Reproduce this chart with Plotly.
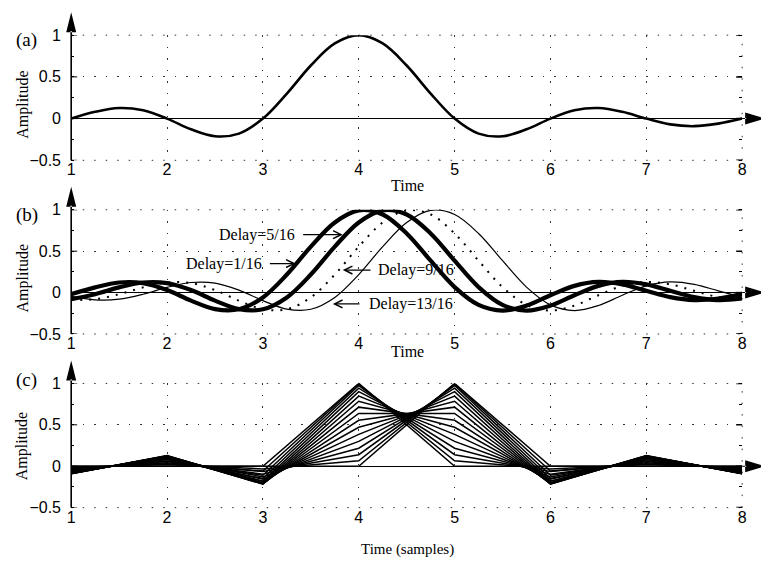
import plotly.graph_objects as go

# ---------------- data ----------------
t_fine = [1.0, 1.25, 1.5, 1.75, 2.0, 2.25, 2.5, 2.75, 3.0, 3.25, 3.5, 3.75, 4.0, 4.25,
          4.5, 4.75, 5.0, 5.25, 5.5, 5.75, 6.0, 6.25, 6.5, 6.75, 7.0, 7.25, 7.5, 7.75, 8.0]
t_samples = [1, 2, 3, 4, 5, 6, 7, 8]
x_ticks = [1, 2, 3, 4, 5, 6, 7, 8]
y_ticks = [-0.5, 0, 0.5, 1]
y_ticktext = ["\u22120.5", "0", "0.5", "1"]

# (a) undelayed interpolation kernel
amp_a = [0.0, 0.0818, 0.1273, 0.1000, 0.0, -0.1286, -0.2122, -0.1801, 0.0, 0.3001,
         0.6366, 0.9003, 1.0, 0.9003, 0.6366, 0.3001, 0.0, -0.1801, -0.2122, -0.1286,
         0.0, 0.1000, 0.1273, 0.0818, 0.0, -0.0693, -0.0909, -0.0600, 0.0]

# (b) delayed kernels
amp_d1 = [-0.0203, 0.0629, 0.1218, 0.1145, 0.0301, -0.0976, -0.1998, -0.2017, -0.0584,
          0.2177, 0.5550, 0.8470, 0.9936, 0.9432, 0.7136, 0.3850, 0.0662, -0.1489,
          -0.2172, -0.1568, -0.0321, 0.0808, 0.1281, 0.0985, 0.0211, -0.0555, -0.0908,
          -0.0718, -0.0158]
amp_d5 = [-0.0799, -0.0203, 0.0629, 0.1218, 0.1145, 0.0301, -0.0976, -0.1998, -0.2017,
          -0.0584, 0.2177, 0.5550, 0.8470, 0.9936, 0.9432, 0.7136, 0.3850, 0.0662,
          -0.1489, -0.2172, -0.1568, -0.0321, 0.0808, 0.1281, 0.0985, 0.0211, -0.0555,
          -0.0908, -0.0718]
amp_d9 = [-0.0876, -0.0799, -0.0203, 0.0629, 0.1218, 0.1145, 0.0301, -0.0976, -0.1998,
          -0.2017, -0.0584, 0.2177, 0.5550, 0.8470, 0.9936, 0.9432, 0.7136, 0.3850,
          0.0662, -0.1489, -0.2172, -0.1568, -0.0321, 0.0808, 0.1281, 0.0985, 0.0211,
          -0.0555, -0.0908]
amp_d13 = [-0.0464, -0.0876, -0.0799, -0.0203, 0.0629, 0.1218, 0.1145, 0.0301, -0.0976,
           -0.1998, -0.2017, -0.0584, 0.2177, 0.5550, 0.8470, 0.9936, 0.9432, 0.7136,
           0.3850, 0.0662, -0.1489, -0.2172, -0.1568, -0.0321, 0.0808, 0.1281, 0.0985,
           0.0211, -0.0555]
delay_labels = ["Delay=1/16", "Delay=5/16", "Delay=9/16", "Delay=13/16"]

# (c) sampled kernels, delays 0/16 ... 16/16
c00 = [0.0, 0.0, 0.0, 1.0, 0.0, 0.0, 0.0, 0.0]
c01 = [-0.0203, 0.0301, -0.0584, 0.9936, 0.0662, -0.0321, 0.0211, -0.0158]
c02 = [-0.0390, 0.0573, -0.1083, 0.9745, 0.1392, -0.0650, 0.0424, -0.0314]
c03 = [-0.0555, 0.0808, -0.1489, 0.9432, 0.2177, -0.0976, 0.0629, -0.0464]
c04 = [-0.0693, 0.1000, -0.1801, 0.9003, 0.3001, -0.1286, 0.0818, -0.0600]
c05 = [-0.0799, 0.1145, -0.2017, 0.8470, 0.3850, -0.1568, 0.0985, -0.0718]
c06 = [-0.0871, 0.1238, -0.2139, 0.7842, 0.4705, -0.1810, 0.1120, -0.0811]
c07 = [-0.0908, 0.1281, -0.2172, 0.7136, 0.5550, -0.1998, 0.1218, -0.0876]
c08 = [-0.0909, 0.1273, -0.2122, 0.6366, 0.6366, -0.2122, 0.1273, -0.0909]
c09 = [-0.0876, 0.1218, -0.1998, 0.5550, 0.7136, -0.2172, 0.1281, -0.0908]
c10 = [-0.0811, 0.1120, -0.1810, 0.4705, 0.7842, -0.2139, 0.1238, -0.0871]
c11 = [-0.0718, 0.0985, -0.1568, 0.3850, 0.8470, -0.2017, 0.1145, -0.0799]
c12 = [-0.0600, 0.0818, -0.1286, 0.3001, 0.9003, -0.1801, 0.1000, -0.0693]
c13 = [-0.0464, 0.0629, -0.0976, 0.2177, 0.9432, -0.1489, 0.0808, -0.0555]
c14 = [-0.0314, 0.0424, -0.0650, 0.1392, 0.9745, -0.1083, 0.0573, -0.0390]
c15 = [-0.0158, 0.0211, -0.0321, 0.0662, 0.9936, -0.0584, 0.0301, -0.0203]
c16 = [0.0, 0.0, 0.0, 0.0, 1.0, 0.0, 0.0, 0.0]
sampled = [c00, c01, c02, c03, c04, c05, c06, c07, c08, c09, c10, c11, c12, c13, c14, c15, c16]

# ---------------- figure ----------------
W, H = 761, 569
fig = go.Figure()

fig.add_trace(go.Scatter(x=t_fine, y=amp_a, mode="lines", xaxis="x", yaxis="y",
                         line=dict(color="black", width=2.6, shape="spline")))

fig.add_trace(go.Scatter(x=t_fine, y=amp_d13, mode="lines", xaxis="x2", yaxis="y2",
                         line=dict(color="black", width=1.2, shape="spline")))
fig.add_trace(go.Scatter(x=t_fine, y=amp_d9, mode="lines", xaxis="x2", yaxis="y2",
                         line=dict(color="black", width=2, shape="spline", dash="2px,7px")))
fig.add_trace(go.Scatter(x=t_fine, y=amp_d5, mode="lines", xaxis="x2", yaxis="y2",
                         line=dict(color="black", width=4.2, shape="spline")))
fig.add_trace(go.Scatter(x=t_fine, y=amp_d1, mode="lines", xaxis="x2", yaxis="y2",
                         line=dict(color="black", width=4.2, shape="spline")))

for vals in sampled:
    fig.add_trace(go.Scatter(x=t_samples, y=vals, mode="lines", xaxis="x3", yaxis="y3",
                             line=dict(color="black", width=1.5)))

XL, XR = 68 / W, 747 / W
xdom = [XL, XR]
ydoms = [[1 - 157 / H, 1 - 28 / H], [1 - 336 / H, 1 - 208 / H], [1 - 515 / H, 1 - 387 / H]]

tickfont = dict(family="Liberation Sans, Arial, sans-serif", size=16, color="black")
GRIDDASH = "1.5px,10px"
GRIDCOLOR = "#333"
grid = dict(showgrid=True, gridcolor=GRIDCOLOR, gridwidth=1, griddash=GRIDDASH)

layout = dict(width=W, height=H, margin=dict(l=0, r=0, t=0, b=0),
              paper_bgcolor="white", plot_bgcolor="white", showlegend=False,
              hovermode=False)
for i in range(3):
    sx = "" if i == 0 else str(i + 1)
    layout["xaxis" + sx] = dict(domain=xdom, range=[1, 8], anchor="y" + sx,
                                tickvals=x_ticks, ticks="", showline=False, zeroline=False,
                                tickfont=tickfont, ticklabelstandoff=-2, fixedrange=True, **grid)
    # major ticks are "outside" but invisible (they only set the label gap);
    # the visible inside major ticks are drawn below as shapes
    layout["yaxis" + sx] = dict(domain=ydoms[i], range=[-0.5, 1], anchor="x" + sx,
                                tickvals=y_ticks, ticktext=y_ticktext, ticks="outside",
                                ticklen=6, tickwidth=1, tickcolor="rgba(0,0,0,0)",
                                mirror="ticks",
                                showline=False, zeroline=True, zerolinecolor="black",
                                zerolinewidth=1, tickfont=tickfont,
                                minor=dict(dtick=0.25, tick0=0, ticks="inside", ticklen=3,
                                           tickcolor="black", showgrid=False),
                                fixedrange=True, **grid)
fig.update_layout(**layout)

serif = "Liberation Serif, Times New Roman, serif"
shapes = []
annotations = []
panel_letters = ["(a)", "(b)", "(c)"]
letter_y = [33, 213, 383]
ylabel_y = [100, 279, 452]
xlabel_y = [183, 354, 558]
xlabel_txt = ["Time", "Time", "Time (samples)"]
xlabel_size = [16, 16, 15]
for i in range(3):
    sx = "" if i == 0 else str(i + 1)
    yb, yt = ydoms[i]
    yz = yb + (yt - yb) / 3.0
    # boundary dotted grid lines (top, bottom, right)
    for (x0, y0, x1, y1) in [(XL, yt, XR, yt), (XL, yb, XR, yb), (XR, yb, XR, yt)]:
        shapes.append(dict(type="line", xref="paper", yref="paper", x0=x0, y0=y0, x1=x1, y1=y1,
                           line=dict(color=GRIDCOLOR, width=1, dash=GRIDDASH), layer="below"))
    # inside major ticks, left and mirrored right
    for v in y_ticks:
        shapes.append(dict(type="line", xref="paper", yref="y" + sx, xsizemode="pixel",
                           xanchor=XL, x0=0, x1=6, y0=v, y1=v,
                           line=dict(color="black", width=1), layer="above"))
        shapes.append(dict(type="line", xref="paper", yref="y" + sx, xsizemode="pixel",
                           xanchor=XR, x0=-6, x1=0, y0=v, y1=v,
                           line=dict(color="black", width=1.5), layer="above"))
    # y-axis line
    shapes.append(dict(type="line", xref="paper", yref="paper", x0=XL, x1=XL, y0=yb, y1=yt,
                       line=dict(color="black", width=1.6), layer="above"))
    # y-axis arrow head
    shapes.append(dict(type="path", xref="paper", yref="paper", xsizemode="pixel",
                       ysizemode="pixel", xanchor=XL, yanchor=yt,
                       path="M-0.8,0 L0.8,0 L0.8,4 L-0.8,4 Z M-5,3 L5,3 L0,23 Z",
                       fillcolor="black", line=dict(width=0), layer="above"))
    # x-axis arrow head on the zero line
    shapes.append(dict(type="path", xref="paper", yref="paper", xsizemode="pixel",
                       ysizemode="pixel", xanchor=XR, yanchor=yz,
                       path="M0,-0.5 L4,-0.5 L4,0.5 L0,0.5 Z M3,-6 L3,6 L23,0 Z",
                       fillcolor="black", line=dict(width=0), layer="above"))
    annotations.append(dict(text=panel_letters[i], xref="paper", yref="paper",
                            x=23 / W, y=1 - letter_y[i] / H, showarrow=False,
                            xanchor="center", yanchor="middle",
                            font=dict(family=serif, size=19, color="black")))
    annotations.append(dict(text="Amplitude", xref="paper", yref="paper", textangle=-90,
                            x=19 / W, y=1 - ylabel_y[i] / H, showarrow=False,
                            xanchor="center", yanchor="middle",
                            font=dict(family=serif, size=16, color="black")))
    annotations.append(dict(text=xlabel_txt[i], xref="paper", yref="paper",
                            x=408 / W, y=1 - xlabel_y[i] / H, showarrow=False,
                            xanchor="center", yanchor="middle",
                            font=dict(family=serif, size=xlabel_size[i], color="black")))

# delay annotations in (b): (text anchor x, y, side, arrow tail x, arrow tip x)
delay_pos = [
    (3.008, 0.35, "right", 3.057, 3.342),
    (3.353, 0.70, "right", 3.404, 3.833),
    (4.177, 0.272, "left", 4.139, 3.833),
    (4.088, -0.137, "left", 4.023, 3.73),
]
for lab, (tx, ty, side, tail, tip) in zip(delay_labels, delay_pos):
    annotations.append(dict(text=lab, xref="x2", yref="y2", x=tx, y=ty, showarrow=False,
                            xanchor=side, yanchor="middle",
                            font=dict(family=serif, size=16, color="black")))
    annotations.append(dict(text="", xref="x2", yref="y2", x=tip, y=ty, axref="x2",
                            ayref="y2", ax=tail, ay=ty, showarrow=True, arrowhead=5,
                            arrowsize=1.3, arrowwidth=1.2, arrowcolor="black", standoff=0))

fig.update_layout(shapes=shapes, annotations=annotations)
fig.write_html("out.html")
